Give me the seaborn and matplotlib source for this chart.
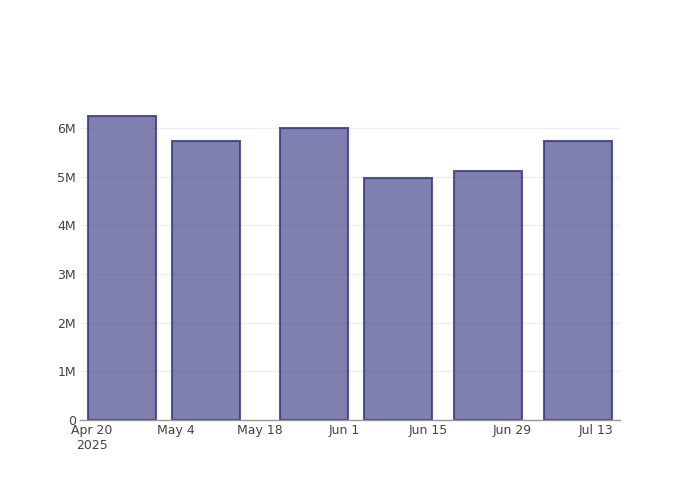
import matplotlib
matplotlib.use("Agg")
import matplotlib.pyplot as plt
import matplotlib.dates as mdates
import seaborn as sns
import pandas as pd
import numpy as np

dates = ["2025-04-25", "2025-05-09", "2025-05-27", "2025-06-10", "2025-06-25", "2025-07-10"]
values = [6.25e6, 5.73e6, 6.00e6, 4.97e6, 5.12e6, 5.73e6]
tick_dates = ["2025-04-20", "2025-05-04", "2025-05-18", "2025-06-01", "2025-06-15", "2025-06-29", "2025-07-13"]
tick_labels = ["Apr 20\n2025", "May 4", "May 18", "Jun 1", "Jun 15", "Jun 29", "Jul 13"]
y_ticks = [0, 1e6, 2e6, 3e6, 4e6, 5e6, 6e6]
y_labels = ["0", "1M", "2M", "3M", "4M", "5M", "6M"]

sns.set_theme(style="white")
plt.rcParams["font.family"] = ["DejaVu Sans"]

df = pd.DataFrame({"date": mdates.date2num(pd.to_datetime(dates)), "value": values})

fig = plt.figure(figsize=(7, 5), dpi=100)
ax = fig.add_axes([80/700, 80/500, 540/700, 320/500])

ax.yaxis.grid(True, color="#eeeeee", linewidth=1)
ax.xaxis.grid(False)
ax.set_axisbelow(True)

sns.barplot(data=df, x="date", y="value", native_scale=True, width=11.2/14,
            color="#7f7fb0", edgecolor="#50508c", linewidth=1.5, saturation=1, ax=ax)
for p in ax.patches:
    p.set_facecolor((0.29, 0.29, 0.56, 0.70))
    p.set_edgecolor((0.20, 0.20, 0.48, 0.80))
    p.set_zorder(2)

x0 = mdates.date2num(pd.Timestamp("2025-04-20"))
ax.set_xlim(x0 - 2.0, x0 + 88.0)
ax.set_ylim(0, 6.575e6)

ax.set_xticks(mdates.date2num(pd.to_datetime(tick_dates)))
ax.set_xticklabels(tick_labels, fontsize=9, color="#444444")
ax.set_yticks(y_ticks)
ax.set_yticklabels(y_labels, fontsize=9, color="#444444")
ax.tick_params(axis="both", length=0, pad=3)
for lbl in ax.get_xticklabels():
    lbl.set_horizontalalignment("center")

ax.yaxis.grid(True, color="#eeeeee", linewidth=1)
ax.set_axisbelow(True)
for s in ["top", "right", "left"]:
    ax.spines[s].set_visible(False)
ax.spines["bottom"].set_color("#999999")
ax.spines["bottom"].set_linewidth(1)
ax.spines["bottom"].set_zorder(3)
ax.set_xlabel("")
ax.set_ylabel("")

fig.savefig("out.png", dpi=100)
